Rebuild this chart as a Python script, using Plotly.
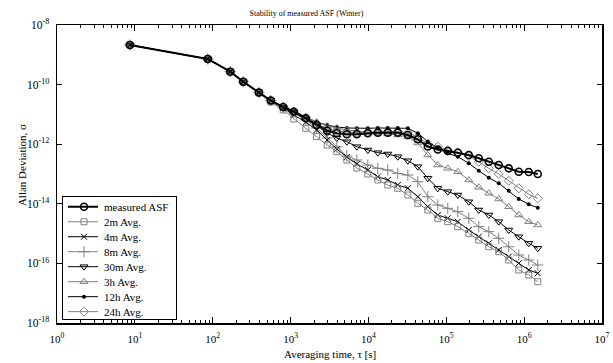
import plotly.graph_objects as go

# ---------------- data ----------------
tau = [8.64, 86.4, 168, 247, 392, 558, 804, 1100, 1570, 2160, 2950, 3930, 5280,
       7100, 9820, 13200, 17700, 23800, 32100, 43100, 57900, 77800, 104500,
       140600, 194500, 261200, 351600, 472100, 634000, 853000, 1146000, 1496000]

measured_asf = [2.13e-9, 7.23e-10, 2.71e-10, 1.25e-10, 5.43e-11, 2.92e-11, 1.77e-11,
                1.23e-11, 7.40e-12, 4.41e-12, 2.84e-12, 2.32e-12, 2.15e-12, 2.15e-12,
                2.32e-12, 2.43e-12, 2.43e-12, 2.43e-12, 2.04e-12, 1.46e-12, 8.37e-13,
                6.64e-13, 5.92e-13, 5.19e-13, 4.35e-13, 3.37e-13, 2.59e-13, 2.00e-13,
                1.55e-13, 1.19e-13, 1.17e-13, 1.00e-13]

avg_2m = [2.13e-9, 7.23e-10, 2.71e-10, 1.22e-10, 5.22e-11, 2.61e-11, 1.41e-11,
          7.01e-12, 3.42e-12, 1.79e-12, 9.40e-13, 5.60e-13, 2.95e-13, 1.59e-13,
          1.00e-13, 6.30e-14, 4.28e-14, 3.31e-14, 1.97e-14, 1.04e-14, 6.19e-15,
          3.26e-15, 2.51e-15, 1.71e-15, 1.02e-15, 6.10e-16, 3.63e-16, 2.47e-16,
          1.30e-16, 6.01e-17, 4.08e-17, 2.43e-17]

avg_4m = [2.13e-9, 7.23e-10, 2.71e-10, 1.25e-10, 5.43e-11, 2.82e-11, 1.64e-11,
          9.55e-12, 5.56e-12, 3.00e-12, 1.38e-12, 6.90e-13, 3.72e-13, 2.17e-13,
          1.36e-13, 8.11e-14, 6.30e-14, 4.28e-14, 3.31e-14, 1.73e-14, 8.00e-15,
          4.21e-15, 3.26e-15, 2.51e-15, 1.32e-15, 7.87e-16, 4.72e-16, 2.82e-16,
          1.68e-16, 1.01e-16, 6.01e-17, 4.66e-17]

avg_8m = [2.13e-9, 7.23e-10, 2.71e-10, 1.25e-10, 5.43e-11, 2.92e-11, 1.71e-11,
          1.11e-11, 6.49e-12, 3.50e-12, 1.61e-12, 8.05e-13, 4.02e-13, 2.95e-13,
          2.00e-13, 1.55e-13, 1.36e-13, 1.05e-13, 9.25e-14, 5.52e-14, 1.73e-14,
          9.12e-15, 7.06e-15, 5.43e-15, 3.26e-15, 1.71e-15, 1.16e-15, 6.95e-16,
          3.63e-16, 1.91e-16, 1.30e-16, 8.83e-17]

avg_30m = [2.13e-9, 7.23e-10, 2.71e-10, 1.25e-10, 5.43e-11, 2.92e-11, 1.71e-11,
           1.21e-11, 7.01e-12, 4.08e-12, 2.38e-12, 1.61e-12, 1.21e-12, 8.24e-13,
           6.38e-13, 5.19e-13, 4.69e-13, 3.81e-13, 2.79e-13, 1.76e-13, 7.18e-14,
           3.31e-14, 2.55e-14, 1.97e-14, 1.17e-14, 6.19e-15, 4.21e-15, 2.51e-15,
           1.32e-15, 7.87e-16, 4.72e-16, 3.21e-16]

avg_3h = [2.13e-9, 7.23e-10, 2.71e-10, 1.25e-10, 5.43e-11, 2.92e-11, 1.77e-11,
          1.30e-11, 8.18e-12, 5.56e-12, 4.08e-12, 3.50e-12, 3.00e-12, 2.77e-12,
          2.56e-12, 2.38e-12, 2.20e-12, 2.04e-12, 1.75e-12, 1.10e-12, 4.35e-13,
          2.00e-13, 1.55e-13, 1.19e-13, 6.30e-14, 3.58e-14, 2.25e-14, 1.45e-14,
          8.00e-15, 4.21e-15, 2.51e-15, 1.95e-15]

avg_12h = [2.13e-9, 7.23e-10, 2.71e-10, 1.25e-10, 5.43e-11, 2.92e-11, 1.77e-11,
           1.30e-11, 8.18e-12, 5.56e-12, 4.41e-12, 3.78e-12, 3.50e-12, 3.42e-12,
           3.42e-12, 3.50e-12, 3.50e-12, 3.50e-12, 3.42e-12, 2.32e-12, 1.21e-12,
           7.45e-13, 4.95e-13, 3.81e-13, 2.29e-13, 1.29e-13, 7.52e-14, 4.88e-14,
           2.75e-14, 1.45e-14, 9.62e-15, 7.40e-15]

avg_24h = [2.13e-9, 7.23e-10, 2.71e-10, 1.25e-10, 5.43e-11, 2.92e-11, 1.77e-11,
           1.23e-11, 7.57e-12, 4.76e-12, 3.24e-12, 2.77e-12, 2.56e-12, 2.47e-12,
           2.56e-12, 2.67e-12, 2.67e-12, 2.67e-12, 2.38e-12, 1.75e-12, 1.02e-12,
           8.24e-13, 6.38e-13, 5.35e-13, 4.02e-13, 2.59e-13, 1.55e-13, 1.00e-13,
           5.96e-14, 3.31e-14, 2.08e-14, 1.53e-14]

series_names = ["measured ASF", "2m Avg.", "4m Avg.", "8m Avg.",
                "30m Avg.", "3h Avg.", "12h Avg.", "24h Avg."]
series_values = [measured_asf, avg_2m, avg_4m, avg_8m,
                 avg_30m, avg_3h, avg_12h, avg_24h]

x_tick_values = [1, 10, 100, 1000, 1e4, 1e5, 1e6, 1e7]
x_tick_labels = ["10<sup>%d</sup>" % k for k in range(0, 8)]
y_tick_values = [1e-18, 1e-16, 1e-14, 1e-12, 1e-10, 1e-8]
y_tick_labels = ["10<sup>-18</sup>", "10<sup>-16</sup>", "10<sup>-14</sup>",
                 "10<sup>-12</sup>", "10<sup>-10</sup>", "10<sup>-8</sup>"]

# ---------------- styles ----------------
BLACK = "#000000"
GRAY = "#808080"
styles = [
    dict(color=BLACK, width=2.0, symbol="circle-open", size=7, mlw=1.6),
    dict(color=GRAY, width=1.0, symbol="square-open", size=6, mlw=1.0),
    dict(color=BLACK, width=1.0, symbol="x-thin-open", size=6, mlw=1.0),
    dict(color=GRAY, width=1.0, symbol="cross-thin-open", size=8, mlw=1.0),
    dict(color=BLACK, width=1.0, symbol="triangle-down-open", size=7, mlw=1.0),
    dict(color=GRAY, width=1.0, symbol="triangle-up-open", size=7, mlw=1.0),
    dict(color=BLACK, width=1.0, symbol="circle", size=4, mlw=0),
    dict(color=GRAY, width=1.0, symbol="diamond-open", size=7, mlw=1.0),
]

FONT = "Liberation Serif, Times New Roman, serif"

fig = go.Figure()

# draw in reverse so measured ASF is on top
for name, vals, st in reversed(list(zip(series_names, series_values, styles))):
    fig.add_trace(go.Scatter(
        x=tau, y=vals, name=name, mode="lines+markers",
        line=dict(color=st["color"], width=st["width"]),
        marker=dict(symbol=st["symbol"], size=st["size"], color=st["color"],
                    line=dict(color=st["color"], width=st["mlw"])),
        showlegend=False,
    ))

# ---------------- compact legend box drawn in a small inset subplot ----------------
for i, (name, st) in enumerate(zip(series_names, styles)):
    fig.add_trace(go.Scatter(
        x=[5, 35], y=[i, i], mode="lines", xaxis="x2", yaxis="y2",
        line=dict(color=st["color"], width=st["width"]),
        showlegend=False, hoverinfo="skip"))
    fig.add_trace(go.Scatter(
        x=[21], y=[i], mode="markers", xaxis="x2", yaxis="y2",
        marker=dict(symbol=st["symbol"], size=st["size"], color=st["color"],
                    line=dict(color=st["color"], width=st["mlw"])),
        showlegend=False, hoverinfo="skip"))
    fig.add_annotation(x=39, y=i, xref="x2", yref="y2", text=name,
                       showarrow=False, xanchor="left", yanchor="middle",
                       font=dict(family=FONT, size=11, color="black"))

# axis titles
fig.add_annotation(text="Averaging time, \u03c4 [s]", xref="paper", yref="paper",
                   x=0.5, y=-0.104, xanchor="center", yanchor="middle",
                   showarrow=False, font=dict(family=FONT, size=11, color="black"))
fig.add_annotation(text="Allan Deviation, \u03c3", xref="paper", yref="paper",
                   x=-0.0642, y=0.53, xanchor="center", yanchor="middle",
                   textangle=-90, showarrow=False,
                   font=dict(family=FONT, size=11, color="black"))

minor_x = [k * 10 ** n for n in range(0, 7) for k in range(2, 10)]

fig.update_layout(
    template="none",
    width=613, height=363,
    margin=dict(l=57, r=11, t=25, b=40, autoexpand=False),
    paper_bgcolor="white", plot_bgcolor="white",
    font=dict(family=FONT, size=11, color="black"),
    title=dict(text="Stability of measured ASF (Winter)", x=0.5, xanchor="center",
               y=0.964, yanchor="middle",
               font=dict(family=FONT, size=8, color="black")),
    xaxis=dict(
        type="log", range=[0, 7], tickvals=x_tick_values, ticktext=x_tick_labels,
        ticks="inside", ticklen=6, tickcolor="black", tickwidth=1,
        showline=True, linecolor="black", linewidth=1.5, mirror="allticks",
        showgrid=False, zeroline=False, automargin=False,
        minor=dict(tickvals=minor_x, ticks="inside", ticklen=3,
                   tickcolor="black", showgrid=False),
        tickfont=dict(family=FONT, size=11, color="black"), ticklabelstandoff=5,
    ),
    yaxis=dict(
        type="log", range=[-18, -8], tickvals=y_tick_values, ticktext=y_tick_labels,
        ticks="inside", ticklen=5, tickcolor="black", tickwidth=1,
        showline=True, linecolor="black", linewidth=1.5, mirror="allticks",
        showgrid=False, zeroline=False, automargin=False,
        tickfont=dict(family=FONT, size=11.5, color="black"), ticklabelstandoff=4,
    ),
    xaxis2=dict(domain=[0.011, 0.2183], anchor="y2", range=[0, 113],
                showline=True, mirror=True, linecolor="black", linewidth=1,
                showgrid=False, zeroline=False, showticklabels=False, ticks="",
                automargin=False),
    yaxis2=dict(domain=[0.0134, 0.4228], anchor="x2", range=[7.49, -0.65],
                showline=True, mirror=True, linecolor="black", linewidth=1,
                showgrid=False, zeroline=False, showticklabels=False, ticks="",
                automargin=False),
    showlegend=False,
    hovermode=False,
)

# remove the browser's default 8px page margin so the figure fills the window
fig.write_html("out.html",
               config={"displayModeBar": False, "staticPlot": True},
               post_script="document.body.style.margin='0';"
                           "document.body.style.overflow='hidden';")
